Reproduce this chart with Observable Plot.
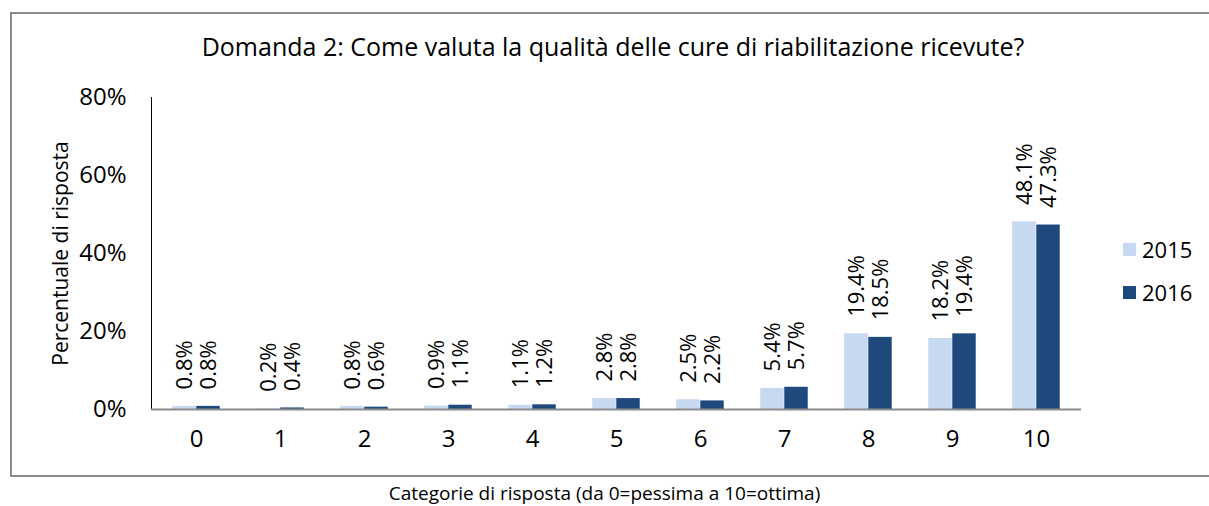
<!DOCTYPE html>
<html>
<head>
<meta charset="utf-8">
<script src="https://cdn.jsdelivr.net/npm/d3@7"></script>
<script src="https://cdn.jsdelivr.net/npm/@observablehq/plot@0.6"></script>
<style>
  html, body { margin: 0; padding: 0; background: #fff; }
  body { width: 1209px; height: 506px; position: relative; overflow: hidden; font-family: "Open Sans", sans-serif; color: #000; }
  #frame { position: absolute; left: 10px; top: 12px; width: 1199px; height: 461px; border: 2px solid #8c8c8c; border-right: none; box-sizing: content-box; }
  #title { position: absolute; left: 0; width: 1226px; top: 30px; text-align: center; font-size: 25px; line-height: 32px; }
  #xlabel { position: absolute; left: 0; width: 1209px; top: 480px; text-align: center; font-size: 19px; line-height: 26px; }
  #chart { position: absolute; left: 0; top: 0; }
  .legend { position: absolute; left: 1123px; font-size: 22px; line-height: 26px; display: flex; align-items: center; }
  .legend span.sw { display: inline-block; width: 13px; height: 13px; margin-right: 6px; }
</style>
</head>
<body>
<div id="frame"></div>
<div id="title">Domanda 2: Come valuta la qualità delle cure di riabilitazione ricevute?</div>
<div id="chart"></div>
<div id="legend"></div>
<div id="xlabel">Categorie di risposta (da 0=pessima a 10=ottima)</div>
<script>
const categories = ["0","1","2","3","4","5","6","7","8","9","10"];
const years = ["2015", "2016"];
const values2015 = [0.8, 0.2, 0.8, 0.9, 1.1, 2.8, 2.5, 5.4, 19.4, 18.2, 48.1];
const values2016 = [0.8, 0.4, 0.6, 1.1, 1.2, 2.8, 2.2, 5.7, 18.5, 19.4, 47.3];
const yTicks = [0, 20, 40, 60, 80];
const colors = ["#C6D9F0", "#1F497D"];

const rows2015 = categories.map((c, i) => ({category: c, year: "2015", value: values2015[i]}));
const rows2016 = categories.map((c, i) => ({category: c, year: "2016", value: values2016[i]}));

const W = 1209, H = 506;
const mL = 151, mR = 128, mT = 97, mB = 97;
const step = (W - mL - mR) / categories.length;
const barW = 24;
const outer = (step - 2 * barW) / 2;
const fmt = v => v.toFixed(1) + "%";
const labelFont = {fontSize: 22, fontFamily: "Open Sans", fill: "#000"};

const chart = Plot.plot({
  width: W, height: H,
  marginLeft: mL, marginRight: mR, marginTop: mT, marginBottom: mB,
  style: {fontFamily: "Open Sans", fontSize: "24px", color: "#000", background: "transparent", overflow: "visible"},
  x: {domain: categories, padding: 0, tickSize: 0, tickPadding: 20, label: null},
  y: {domain: [0, 80], ticks: yTicks, tickFormat: d => d + "%", tickSize: 0, tickPadding: 25,
      label: "Percentuale di risposta", labelAnchor: "center", labelOffset: 98, labelArrow: "none", line: true},
  marks: [
    Plot.barY(rows2015, {x: "category", y: "value", fill: colors[0], insetLeft: outer, insetRight: outer + barW}),
    Plot.barY(rows2016, {x: "category", y: "value", fill: colors[1], insetLeft: outer + barW, insetRight: outer}),
    Plot.ruleY([0], {stroke: "#8c8c8c", strokeWidth: 2}),
    Plot.text(rows2015, {x: "category", y: "value", text: d => fmt(d.value), rotate: -90, textAnchor: "start", dx: -barW / 2, dy: -17, ...labelFont}),
    Plot.text(rows2016, {x: "category", y: "value", text: d => fmt(d.value), rotate: -90, textAnchor: "start", dx: barW / 2, dy: -17, ...labelFont})
  ]
});
document.getElementById("chart").appendChild(chart);

chart.querySelectorAll('[aria-label="y-axis line"], [aria-label="y-axis"] path').forEach(p => { p.setAttribute("stroke", "#8c8c8c"); p.setAttribute("stroke-width", "2"); });
chart.querySelectorAll('[aria-label="y-axis label"]').forEach(g => g.setAttribute("font-size", "21"));

const legend = document.getElementById("legend");
years.forEach((y, i) => {
  const d = document.createElement("div");
  d.className = "legend";
  d.style.top = (236 + i * 43) + "px";
  d.innerHTML = `<span class="sw" style="background:${colors[i]}"></span>${y}`;
  legend.appendChild(d);
});
</script>
</body>
</html>
